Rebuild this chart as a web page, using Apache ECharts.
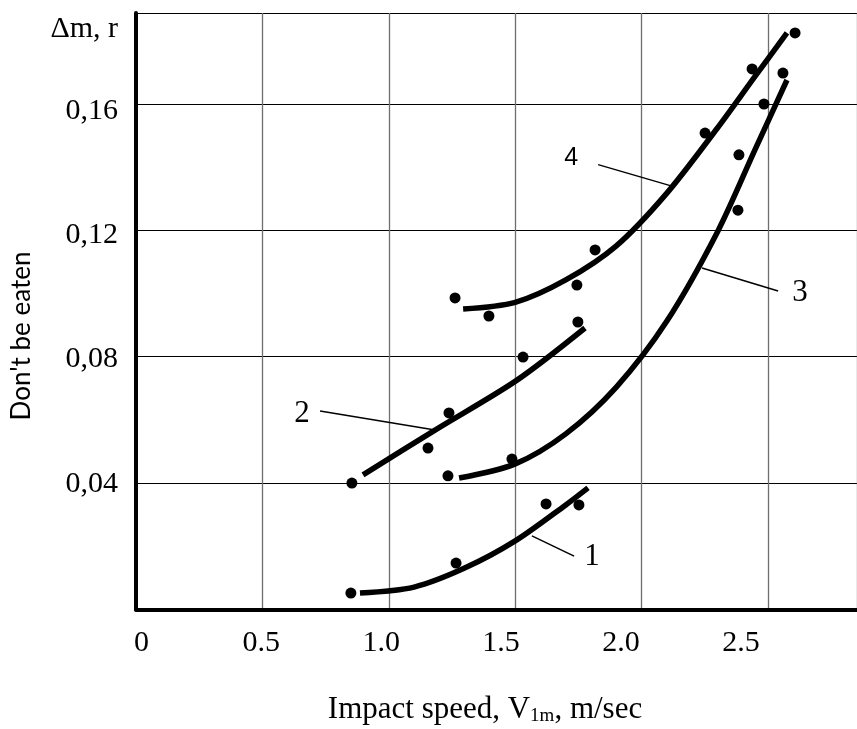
<!DOCTYPE html>
<html><head><meta charset="utf-8">
<script src="https://cdn.jsdelivr.net/npm/echarts@6/dist/echarts.min.js"></script>
<style>html,body{margin:0;padding:0;background:#fff}#c{width:857px;height:729px}</style>
</head><body><div id="c"></div>
<script>
// Tick labels
const xTickLabels = [0, 0.5, 1.0, 1.5, 2.0, 2.5];
const yTickLabels = [0.04, 0.08, 0.12, 0.16];

// Measured points (x: impact speed, y: mass loss)
const points1 = [[0.850,0.0052],[1.266,0.0147],[1.622,0.0334],[1.752,0.0331]];
const points2 = [[0.854,0.0400],[1.155,0.0511],[1.238,0.0622],[1.531,0.0799],[1.748,0.0910]];
const points3 = [[1.234,0.0423],[1.487,0.0476],[2.381,0.1264],[2.385,0.1439],[2.484,0.1600],[2.559,0.1698]];
const points4 = [[1.262,0.0986],[1.396,0.0929],[1.744,0.1027],[1.816,0.1138],[2.251,0.1508],[2.437,0.1711],[2.607,0.1825]];

// Fitted curves
const curve1 = [[0.886,0.0052],[1.1,0.0071],[1.3,0.0131],[1.5,0.0217],[1.7,0.0331],[1.788,0.0385]];
const curve2 = [[0.898,0.0426],[1.183,0.0568],[1.507,0.0726],[1.776,0.0891]];
const curve3 = [[1.278,0.0416],[1.5,0.0461],[1.7,0.0556],[1.9,0.0704],[2.1,0.0913],[2.3,0.1195],[2.45,0.1458],[2.575,0.1676]];
const curve4 = [[1.294,0.0951],[1.5,0.0972],[1.7,0.1043],[1.9,0.1151],[2.1,0.1318],[2.3,0.1524],[2.45,0.1689],[2.575,0.1825]];

// Curve labels and leader lines
const curveNames = ['1','2','3','4'];
const labelPos = [[1.804,0.0166],[0.657,0.0618],[2.627,0.1002],[1.721,0.1429]];
const leaders = [
  [[1.566,0.0233],[1.733,0.0169]],
  [[0.728,0.0628],[1.183,0.0568]],
  [[2.239,0.1081],[2.540,0.1008]],
  [[1.828,0.1408],[2.120,0.1340]]
];

const serif = 'Liberation Serif';
const series = [];
[curve1, curve2, curve3, curve4].forEach(c => series.push({
  type:'line', data:c, smooth:0.3, showSymbol:false, silent:true,
  lineStyle:{color:'#000', width:5.5, cap:'butt'}, z:3
}));
[points1, points2, points3, points4].forEach(p => series.push({
  type:'scatter', data:p, symbol:'circle', symbolSize:11,
  itemStyle:{color:'#000', opacity:1}, z:4
}));
leaders.forEach(l => series.push({
  type:'line', data:l, showSymbol:false, silent:true,
  lineStyle:{color:'#000', width:1.5}, z:3
}));
series.push({
  type:'scatter', symbolSize:1, itemStyle:{color:'rgba(0,0,0,0)', opacity:1}, z:5,
  data: labelPos.map((p,i) => ({value:p, name:curveNames[i],
    label:{show:true, position:'inside', formatter:curveNames[i],
      fontFamily: i===3 ? 'Liberation Sans' : serif,
      fontSize: i===3 ? 25 : 31, color:'#000', opacity:1}}))
});

const chart = echarts.init(document.getElementById('c'), null, {renderer:'canvas'});
chart.setOption({
  animation:false,
  backgroundColor:'#fff',
  grid:{left:136, right:0, top:13, bottom:119.5, containLabel:false, outerBoundsMode:'none'},
  xAxis:[
    {type:'value', min:0, max:2.852, interval:0.5,
     axisLine:{show:true, onZero:false, lineStyle:{color:'#000', width:4}},
     axisTick:{show:false}, axisLabel:{show:false},
     splitLine:{show:true, lineStyle:{color:'#6e6e6e', width:1.3}}},
    {type:'value', position:'bottom', min:-0.0225, max:2.984,
     axisLine:{show:false, onZero:false}, axisTick:{show:false}, splitLine:{show:false},
     axisLabel:{show:true, customValues:xTickLabels, margin:19,
       formatter: v => v === 0 ? '0' : v.toFixed(1),
       fontFamily:serif, fontSize:30, color:'#000'}}
  ],
  yAxis:[
    {type:'value', min:0, max:0.1888, interval:0.04,
     axisLine:{show:true, onZero:false, lineStyle:{color:'#000', width:4}},
     axisTick:{show:false}, axisLabel:{show:false},
     splitLine:{show:true, lineStyle:{color:'#000', width:1.2}}},
    {type:'value', position:'left', min:-0.0005, max:0.1916,
     axisLine:{show:false, onZero:false}, axisTick:{show:false}, splitLine:{show:false},
     axisLabel:{show:true, customValues:yTickLabels, margin:18,
       formatter: v => v.toFixed(2).replace('.', ','),
       fontFamily:serif, fontSize:30, color:'#000'}}
  ],
  graphic:[
    {type:'text', x:118, y:29, style:{text:'Δm, r', font:'30px "Liberation Serif"', fill:'#000',
      textAlign:'right', textVerticalAlign:'middle', align:'right', verticalAlign:'middle'}},
    {type:'text', x:22, y:336, rotation:Math.PI/2, style:{text:"Don't be eaten", font:'26px Lato', fill:'#000',
      textAlign:'center', textVerticalAlign:'middle', align:'center', verticalAlign:'middle'}},
    {type:'text', x:485, y:710, style:{
      text:'{a|Impact speed, V}{b|1m}{a|, m/sec}', fill:'#000',
      textAlign:'center', textVerticalAlign:'middle', align:'center', verticalAlign:'middle',
      rich:{a:{fontFamily:serif, fontSize:31, fill:'#000', color:'#000', verticalAlign:'bottom'},
            b:{fontFamily:serif, fontSize:19, fill:'#000', color:'#000', verticalAlign:'bottom'}}}}
  ],
  series: series
});
</script></body></html>
